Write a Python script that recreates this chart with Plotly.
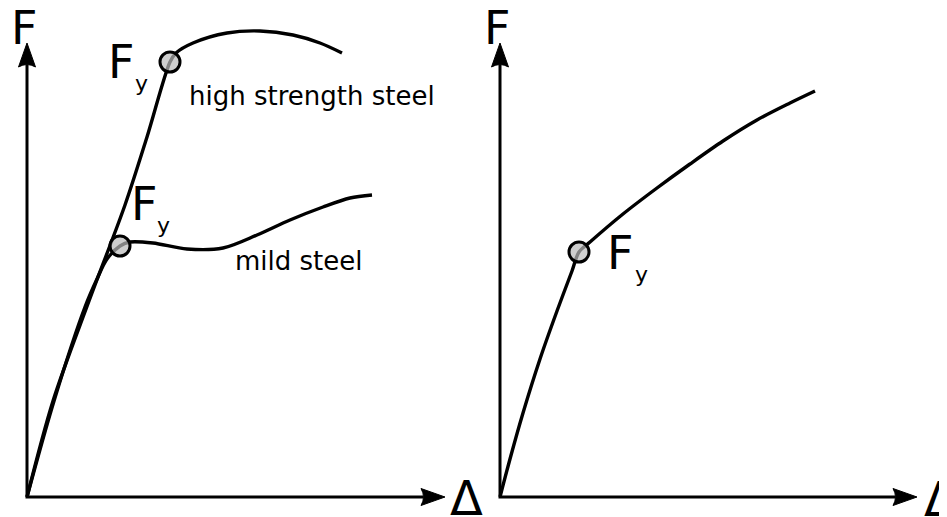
import plotly.graph_objects as go

# left panel: high strength steel curve (delta, force)
hs_delta = [0, 26, 62, 98, 120, 143, 149, 166, 200, 233, 266, 293, 315]
hs_force = [0, 96, 196, 292, 360, 435, 444, 454, 464, 466, 462, 454, 444]

# left panel: mild steel curve
mild_delta = [0, 27, 58, 70, 80, 93, 103, 126, 160, 196, 230, 263, 296, 323, 345]
mild_force = [0, 96, 190, 218, 238, 251, 255, 254, 248, 249, 262, 277, 290, 299, 302]

# right panel: no distinct yield plateau
gen_delta = [0, 10, 23, 40, 57, 72, 79, 90, 123, 157, 190, 223, 257, 290, 315]
gen_force = [0, 38, 84, 138, 186, 226, 245, 255, 283, 309, 333, 356, 377, 394, 406]

# yield points
yield_left_delta = [143, 93]
yield_left_force = [435, 251]
yield_right_delta = [79]
yield_right_force = [245]

FONT = "DejaVu Sans"
LW = 3.4

fig = go.Figure()

for d, f, xa, ya in [(hs_delta, hs_force, "x", "y"),
                     (mild_delta, mild_force, "x", "y"),
                     (gen_delta, gen_force, "x2", "y2")]:
    fig.add_trace(go.Scatter(x=d, y=f, mode="lines", xaxis=xa, yaxis=ya,
                             line=dict(color="black", width=LW, shape="spline", smoothing=0.9),
                             hoverinfo="skip"))

marker = dict(size=20, color="rgba(185,185,185,0.7)", line=dict(color="black", width=3))
fig.add_trace(go.Scatter(x=yield_left_delta, y=yield_left_force, mode="markers",
                         marker=marker, xaxis="x", yaxis="y", hoverinfo="skip"))
fig.add_trace(go.Scatter(x=yield_right_delta, y=yield_right_force, mode="markers",
                         marker=marker, xaxis="x2", yaxis="y2", hoverinfo="skip"))


def axes_shapes(xref, yref, top=454, right=418):
    # L shaped axes plus two arrow heads
    line = dict(type="path", xref=xref, yref=yref,
                path=f"M 0,{top - 22} L 0,0 L {right - 22},0",
                line=dict(color="black", width=3))
    up = dict(type="path", xref=xref, yref=yref,
              path=f"M 0,{top} L -8.5,{top - 24} Q 0,{top - 19} 8.5,{top - 24} Z",
              fillcolor="black", line=dict(color="black", width=1))
    rt = dict(type="path", xref=xref, yref=yref,
              path=f"M {right},0 L {right - 24},8.5 Q {right - 19},0 {right - 24},-8.5 Z",
              fillcolor="black", line=dict(color="black", width=1))
    return [line, up, rt]


shapes = axes_shapes("x", "y", 454, 418) + axes_shapes("x2", "y2", 454, 417)


def label(text, x, y, size, xref="x", yref="y"):
    return dict(text=text, x=x, y=y, xref=xref, yref=yref, showarrow=False,
                xanchor="center", yanchor="middle",
                font=dict(family=FONT, size=size, color="black"))


annotations = [
    # axis titles
    label("F", -3.5, 469.5, 46),
    label("Δ", 439, -0.5, 48),
    label("F", -3.5, 469.5, 46, "x2", "y2"),
    label("Δ", 440, -1.5, 48, "x2", "y2"),
    # yield labels
    label("F", 93.5, 435.5, 46),
    label("y", 114, 413.5, 22),
    label("F", 116.5, 293.5, 46),
    label("y", 136.5, 271.5, 22),
    label("F", 120, 244.5, 46, "x2", "y2"),
    label("y", 141.5, 222.5, 22, "x2", "y2"),
    # curve names
    label("high strength steel", 284.5, 401, 26),
    label("mild steel", 271.5, 236, 26),
]

# ranges are offset by the 8px page margin so the drawing lines up with the window
fig.update_layout(
    width=947, height=517,
    margin=dict(l=0, r=0, t=0, b=0),
    paper_bgcolor="white", plot_bgcolor="white",
    showlegend=False,
    xaxis=dict(domain=[0, 0.5], range=[-19, 454.5], visible=False),
    yaxis=dict(domain=[0, 1], range=[-28, 489], visible=False),
    xaxis2=dict(domain=[0.5, 1], range=[-18.5, 455], visible=False),
    yaxis2=dict(domain=[0, 1], range=[-28, 489], visible=False, anchor="x2"),
    shapes=shapes,
    annotations=annotations,
)

fig.write_html("out.html")
